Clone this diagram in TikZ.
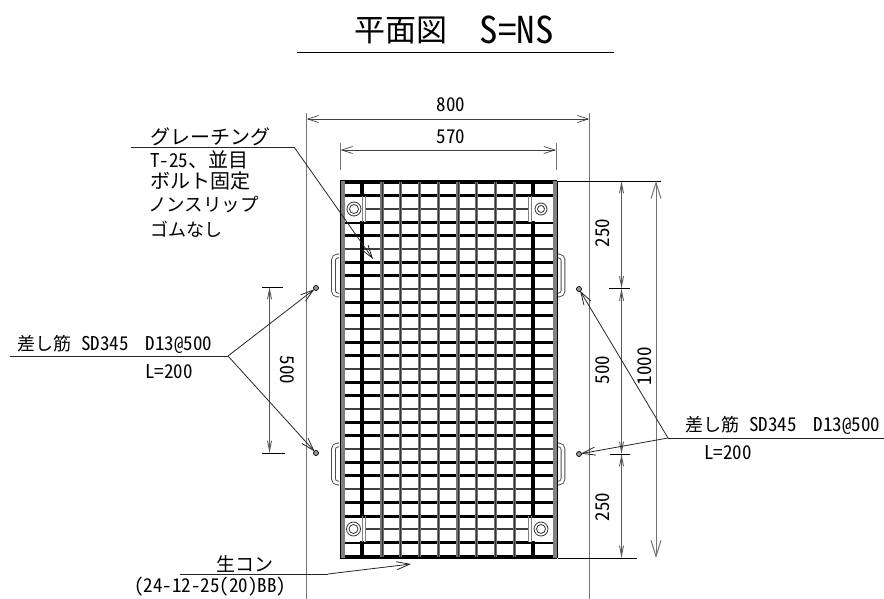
\documentclass[tikz,border=0pt]{standalone}
\usepackage{fontspec}
\setmainfont[RawFeature=+hwid]{Noto Sans CJK JP}
\newfontfamily\jpfont{Noto Sans CJK JP}
\usetikzlibrary{arrows.meta}

\newcommand{\jp}[2][18]{{\fontsize{#1}{#1}\jpfont #2}}

\tikzset{
    label/.style={inner sep=0pt,font=\fontsize{19}{20}\selectfont},
    dimline/.style={draw=black!75,line width=.7pt,{Straight Barb[length=11pt,width=7pt]}-{Straight Barb[length=11pt,width=7pt]}},
    narrowdim/.style={draw=black!65,line width=.9pt,{Straight Barb[length=10pt,width=4pt]}-{Straight Barb[length=10pt,width=4pt]}},
    widedim/.style={draw=black!55,line width=1pt,{Straight Barb[length=16pt,width=10pt]}-{Straight Barb[length=16pt,width=10pt]}},
    extline/.style={draw=black!55,line width=1pt},
    tickline/.style={draw=black,line width=.8pt},
    leader/.style={draw=black!85,line width=.8pt},
    leadertip/.style={leader,-{Straight Barb[length=13pt,width=8pt]}},
    railbar/.style={draw=black!55,line width=3.2pt},
    heavybar/.style={draw=black,line width=3.2pt},
    bolt/.style={draw=black!80,line width=.8pt,fill=white},
    handle/.style={draw=black!70,line width=4.6pt,rounded corners=4pt},
    handlein/.style={draw=white,line width=2.8pt,rounded corners=4pt},
}

\begin{document}
\begin{tikzpicture}[x=1pt,y=-1pt]
\useasboundingbox (0,0) rectangle (884,599);

% TITLE
\node[inner sep=0pt] (title) at (401,30) {\fontsize{31}{31}\jpfont 平面図};
\node[inner sep=0pt] (scale) at (516.5,30) {\fontsize{37}{37}\selectfont S=NS};
\draw[line width=.7pt] (297,52) -- (614,52);

% EXTENSION LINES
\draw[extline] (306.5,113) -- (306.5,599);
\draw[extline] (589.5,113) -- (589.5,599);
\draw[extline] (340.5,143) -- (340.5,170);
\draw[extline] (556,143) -- (556,170);
\draw[line width=.8pt] (558,181) -- (661,181);
\draw[line width=.8pt] (558,558) -- (637,558);

% WIDTHS
\draw[dimline] (306.5,119) -- (589.5,119);
\node[label] (w800) at (451,105) {800};
\draw[dimline] (340.5,150) -- (556,150);
\node[label] (w570) at (451,137) {570};

% GRATING - bearing bars
\foreach \k in {0,...,28} {
    \pgfmathsetmacro{\yy}{182.5+13.34*\k}
    \pgfmathtruncatemacro{\rest}{mod(\k,3)}
    \ifnum\rest=2
        \draw[black!75,line width=2.2pt] (344,\yy) -- (553,\yy);
    \else
        \draw[black,line width=3pt] (344,\yy) -- (553,\yy);
    \fi
}

% GRATING - plates under the bolts
\foreach \xa/\xb/\ya/\yb in {344/366/197/221.5, 528/553/197/221.5, 344/366/517.5/541.5, 528/553/517.5/541.5} {
    \fill[white] (\xa,\ya) rectangle (\xb,\yb);
}

% GRATING - cross bars
\foreach \xx in {382,400.5,419.5,438.5,458,476.5,495.5,514.5} {
    \draw[railbar] (\xx,182) -- (\xx,557);
    \draw[black!80,line width=.6pt] (\xx,182) -- (\xx,557);
}
\draw[heavybar] (362,182) -- (362,197);
\draw[heavybar] (362,221) -- (362,517);
\draw[heavybar] (362,541) -- (362,557);
\draw[heavybar] (533,182) -- (533,197);
\draw[heavybar] (533,221) -- (533,517);
\draw[heavybar] (533,541) -- (533,557);

% bolt plate edges
\foreach \xx in {362,365,528,531} {
    \draw[black!50,line width=1pt] (\xx,196) -- (\xx,222);
    \draw[black!50,line width=1pt] (\xx,516) -- (\xx,542);
}

% CORNER BARS
\foreach \xa/\xb in {344/363, 532/553} {
    \draw[black,line width=2.5pt] (\xa,183) -- (\xb,183);
    \draw[black,line width=2.5pt] (\xa,556) -- (\xb,556);
}

% FRAME
\fill[black!50] (340,181) rectangle (344.5,558);
\fill[black!50] (553,181) rectangle (557,558);
\draw[black,line width=.6pt] (340,181) -- (340,558);
\draw[black,line width=.6pt] (557,181) -- (557,558);
\draw[black,line width=1pt] (340,181) -- (557,181);
\draw[black,line width=1pt] (340,558) -- (557,558);

% BOLTS
\foreach \xx/\yy/\ra/\rb in {354/209/7/4.5, 541/209/6/3.5, 353.5/529/7/4.5, 541/529/7/4.5} {
    \draw[bolt] (\xx,\yy) circle (\ra);
    \draw[bolt] (\xx,\yy) circle (\rb);
}

% HANDLES
\foreach \ya/\yb in {256/295, 445/483} {
    \draw[handle] (339,\ya) -- (333.5,\ya) -- (333.5,\yb) -- (339,\yb);
    \draw[handlein] (339,\ya) -- (333.5,\ya) -- (333.5,\yb) -- (339,\yb);
    \draw[handle] (558,\ya) -- (563,\ya) -- (563,\yb) -- (558,\yb);
    \draw[handlein] (558,\ya) -- (563,\ya) -- (563,\yb) -- (558,\yb);
}

% RIGHT HEIGHTS
\draw[narrowdim] (621.5,181) -- (621.5,288.5);
\draw[narrowdim] (621.5,288.5) -- (621.5,454);
\draw[narrowdim] (621.5,454) -- (621.5,558);
\draw[tickline] (609,288.5) -- (630,288.5);
\draw[tickline] (610,454) -- (630,454);
\draw[widedim] (656,181) -- (656,558);
\node[label,rotate=90] (h250a) at (603,233) {250};
\node[label,rotate=90] (h500) at (603,370) {500};
\node[label,rotate=90] (h250b) at (603,507) {250};
\node[label,rotate=90] (h1000) at (645,366) {1000};

% LEFT HEIGHT
\draw[tickline] (262,287) -- (283,287);
\draw[tickline] (262,453) -- (285,453);
\draw[narrowdim] (269.5,287) -- (269.5,453);
\node[label,rotate=-90] (h500l) at (287,370) {500};

% DOWEL MARKS
\foreach \name/\xx/\yy in {dowela/316/288, dowelb/316/453, dowelc/579/289, doweld/579/454} {
    \coordinate (\name) at (\xx,\yy);
    \draw[black,line width=.7pt,fill=black!40] (\name) circle (2.5);
}

% GRATING NOTE
\coordinate (gratingknee) at (294,147);
\coordinate (gratingend) at (373,259);
\node[inner sep=0pt,anchor=west] (grating) at (150,136.5) {\jp[20]{グレーチング}};
\draw[leader] (131,147) -- (gratingknee);
\draw[leadertip] (gratingknee) -- (gratingend);
\node[label,anchor=west] (gratinga) at (150,160) {T-25{\jp[20]{、並目}}};
\node[inner sep=0pt,anchor=west] (gratingb) at (150,181) {\jp[20]{ボルト固定}};
\node[inner sep=0pt,anchor=west] (gratingc) at (148,205) {\jp[18.5]{ノンスリップ}};
\node[inner sep=0pt,anchor=west] (gratingd) at (150,229) {\jp{ゴムなし}};

% DOWEL NOTE LEFT
\coordinate (kneeleft) at (228,356);
\node[label,anchor=west] (noteleft) at (17,344) {\jp{差し筋}\hspace{10pt}SD345\hspace{17pt}D13@500};
\node[label,anchor=west] (lenleft) at (145,372) {L=200};
\draw[leader] (10,356) -- (kneeleft);
\draw[leadertip,shorten >=2pt] (kneeleft) -- (dowela);
\draw[leadertip,shorten >=2pt] (kneeleft) -- (dowelb);

% DOWEL NOTE RIGHT
\coordinate (kneeright) at (668,438);
\node[label,anchor=west] (noteright) at (685,425) {\jp{差し筋}\hspace{10pt}SD345\hspace{17pt}D13@500};
\node[label,anchor=west] (lenright) at (704,453) {L=200};
\draw[leader] (884,438) -- (kneeright);
\draw[leadertip,shorten >=2pt] (kneeright) -- (dowelc);
\draw[leadertip,shorten >=2pt] (kneeright) -- (doweld);

% CONCRETE NOTE
\coordinate (concreteknee) at (328,574);
\coordinate (concreteend) at (411,564);
\node[inner sep=0pt,anchor=west] (concrete) at (216,564) {\jp[19]{生コン}};
\node[label,anchor=west] (concretemix) at (134,587) {(24-12-25(20)BB)};
\draw[leader] (180,574) -- (concreteknee);
\draw[leadertip] (concreteknee) -- (concreteend);
\end{tikzpicture}
\end{document}
